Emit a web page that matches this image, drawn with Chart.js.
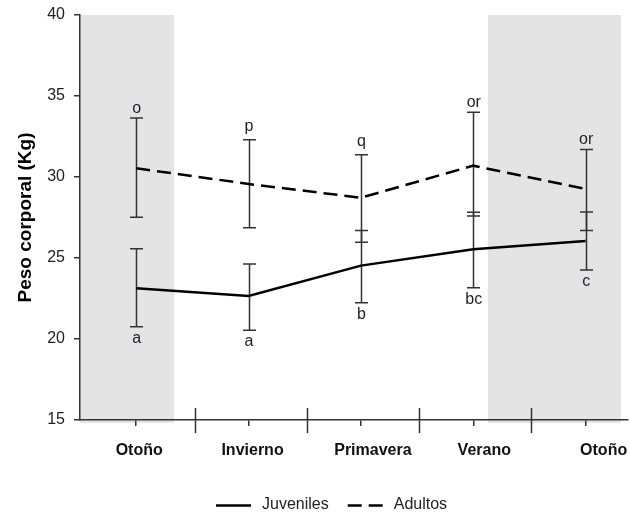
<!DOCTYPE html>
<html><head><meta charset="utf-8">
<script src="https://cdn.jsdelivr.net/npm/chart.js@4"></script>
<style>html,body{margin:0;padding:0;background:#fff}#wrap{width:630px;height:513px}</style>
</head><body><div id="wrap"><canvas id="c" width="630" height="513"></canvas></div>
<script>
const categories = ['Otoño', 'Invierno', 'Primavera', 'Verano', 'Otoño'];
const juveniles = [23.13, 22.65, 24.53, 25.54, 26.05];
const juvenilesHigh = [25.57, 24.63, 26.69, 27.82, 27.84];
const juvenilesLow = [20.76, 20.54, 22.24, 23.17, 24.26];
const juvenilesLetters = ['a', 'a', 'b', 'bc', 'c'];
const adultos = [30.54, 29.57, 28.72, 30.70, 29.26];
const adultosHigh = [33.64, 32.30, 31.38, 33.99, 31.69];
const adultosLow = [27.51, 26.87, 25.97, 27.59, 26.69];
const adultosLetters = ['o', 'p', 'q', 'or', 'or'];
const yTicks = [15, 20, 25, 30, 35, 40];

const FONT = '"Liberation Sans", Arial, sans-serif';
Chart.defaults.font.family = FONT;
const toXY = arr => arr.map((v, i) => ({ x: i, y: v }));

const bandsPlugin = {
  id: 'bands',
  beforeDraw(chart, args, opts) {
    const { ctx, chartArea } = chart;
    const xs = chart.scales.x;
    ctx.save();
    ctx.fillStyle = opts.color;
    opts.ranges.forEach(([a, b]) => {
      const x0 = xs.getPixelForValue(a), x1 = xs.getPixelForValue(b);
      ctx.fillRect(x0, chartArea.top, x1 - x0, chartArea.bottom - chartArea.top + 3);
    });
    ctx.restore();
  }
};

const errorPlugin = {
  id: 'errorBars',
  beforeDatasetsDraw(chart) {
    const { ctx } = chart;
    const xs = chart.scales.x, ys = chart.scales.y;
    ctx.save();
    ctx.strokeStyle = '#333';
    ctx.lineWidth = 1.5;
    chart.data.datasets.forEach(ds => {
      ds.errLow.forEach((lo, i) => {
        const hi = ds.errHigh[i];
        const x = Math.round(xs.getPixelForValue(i)) + 0.5;
        const yl = ys.getPixelForValue(lo), yh = ys.getPixelForValue(hi);
        ctx.beginPath();
        ctx.moveTo(x, yl); ctx.lineTo(x, yh);
        ctx.moveTo(x - 6.5, yl); ctx.lineTo(x + 6.5, yl);
        ctx.moveTo(x - 6.5, yh); ctx.lineTo(x + 6.5, yh);
        ctx.stroke();
      });
    });
    ctx.restore();
  },
  afterDatasetsDraw(chart) {
    const { ctx } = chart;
    const xs = chart.scales.x, ys = chart.scales.y;
    ctx.save();
    ctx.fillStyle = '#1e1e28';
    ctx.font = '16px ' + FONT;
    ctx.textAlign = 'center';
    ctx.textBaseline = 'alphabetic';
    chart.data.datasets.forEach(ds => {
      ds.letters.forEach((t, i) => {
        const x = xs.getPixelForValue(i) + 0.5;
        if (ds.letterPos === 'above') {
          const y = ys.getPixelForValue(ds.errHigh[i]);
          const desc = /[pqgjy]/.test(t);
          ctx.fillText(t, x, y - (desc ? 8.5 : 5.3));
        } else {
          const y = ys.getPixelForValue(ds.errLow[i]);
          ctx.fillText(t, x, y + 16);
        }
      });
    });
    ctx.restore();
  }
};

const axisExtrasPlugin = {
  id: 'axisExtras',
  afterDraw(chart, args, opts) {
    const { ctx, chartArea } = chart;
    const xs = chart.scales.x;
    ctx.save();
    ctx.strokeStyle = '#333';
    ctx.lineWidth = 1.5;
    opts.separators.forEach(v => {
      const x = Math.round(xs.getPixelForValue(v)) + 0.5;
      ctx.beginPath();
      ctx.moveTo(x, chartArea.bottom - 12);
      ctx.lineTo(x, chartArea.bottom + 13);
      ctx.stroke();
    });
    ctx.fillStyle = '#111';
    ctx.font = 'bold 16px ' + FONT;
    ctx.textAlign = 'center';
    ctx.textBaseline = 'alphabetic';
    categories.forEach((c, i) => {
      ctx.fillText(c, xs.getPixelForValue(i) + opts.labelShift[i], chartArea.bottom + 35);
    });
    let x = opts.legendX;
    const y = opts.legendY;
    ctx.font = '16px ' + FONT;
    ctx.textAlign = 'left';
    ctx.textBaseline = 'middle';
    chart.data.datasets.forEach(ds => {
      ctx.strokeStyle = ds.borderColor;
      ctx.lineWidth = ds.borderWidth;
      ctx.setLineDash(ds.borderDash || []);
      ctx.beginPath();
      ctx.moveTo(x, y + 0.5);
      ctx.lineTo(x + 35, y + 0.5);
      ctx.stroke();
      ctx.setLineDash([]);
      ctx.fillStyle = '#222';
      ctx.fillText(ds.label, x + 46, y);
      x += 46 + ctx.measureText(ds.label).width + 19;
    });
    ctx.restore();
  }
};

new Chart(document.getElementById('c'), {
  type: 'line',
  data: {
    datasets: [
      { label: 'Juveniles', data: toXY(juveniles), borderColor: '#000', borderWidth: 2.5,
        pointRadius: 0, fill: false, tension: 0,
        errLow: juvenilesLow, errHigh: juvenilesHigh, letters: juvenilesLetters, letterPos: 'below' },
      { label: 'Adultos', data: toXY(adultos), borderColor: '#000', borderWidth: 2.5, borderDash: [14, 7],
        pointRadius: 0, fill: false, tension: 0,
        errLow: adultosLow, errHigh: adultosHigh, letters: adultosLetters, letterPos: 'above' }
    ]
  },
  options: {
    responsive: false,
    animation: false,
    devicePixelRatio: 1,
    layout: { padding: { left: 0, top: 15, right: 2, bottom: 0 } },
    plugins: {
      legend: { display: false },
      tooltip: { enabled: false },
      bands: { color: '#e4e4e4', ranges: [[-0.5, 0.338], [3.13, 4.314]] },
      axisExtras: { separators: [0.52, 1.52, 2.52, 3.51], labelShift: [3, 4, 12, 11, 18], legendX: 216, legendY: 505 }
    },
    scales: {
      x: {
        type: 'linear', min: -0.5, max: 4.377,
        afterBuildTicks: s => { s.ticks = categories.map((_, i) => ({ value: i })); },
        ticks: { display: false },
        grid: { drawOnChartArea: false, drawTicks: true, tickLength: 6, color: '#333', lineWidth: 1.5 },
        border: { display: true, color: '#333', width: 1.5 },
        afterFit: s => { s.height = 93; s.paddingLeft = 0; s.paddingRight = 0; }
      },
      y: {
        min: 15, max: 40,
        afterBuildTicks: s => { s.ticks = yTicks.map(v => ({ value: v })); },
        ticks: { font: { size: 16 }, color: '#222', padding: 9 },
        grid: { drawOnChartArea: false, drawTicks: true, tickLength: 6, color: '#333', lineWidth: 1.5 },
        border: { display: true, color: '#333', width: 1.5 },
        title: { display: true, text: 'Peso corporal (Kg)', font: { size: 19, weight: 'bold' }, color: '#000', padding: { top: 14, bottom: 0 } },
        afterFit: s => { s.width = 80; s.paddingTop = 0; s.paddingBottom = 0; }
      }
    }
  },
  plugins: [bandsPlugin, errorPlugin, axisExtrasPlugin]
});
</script>
</body></html>
